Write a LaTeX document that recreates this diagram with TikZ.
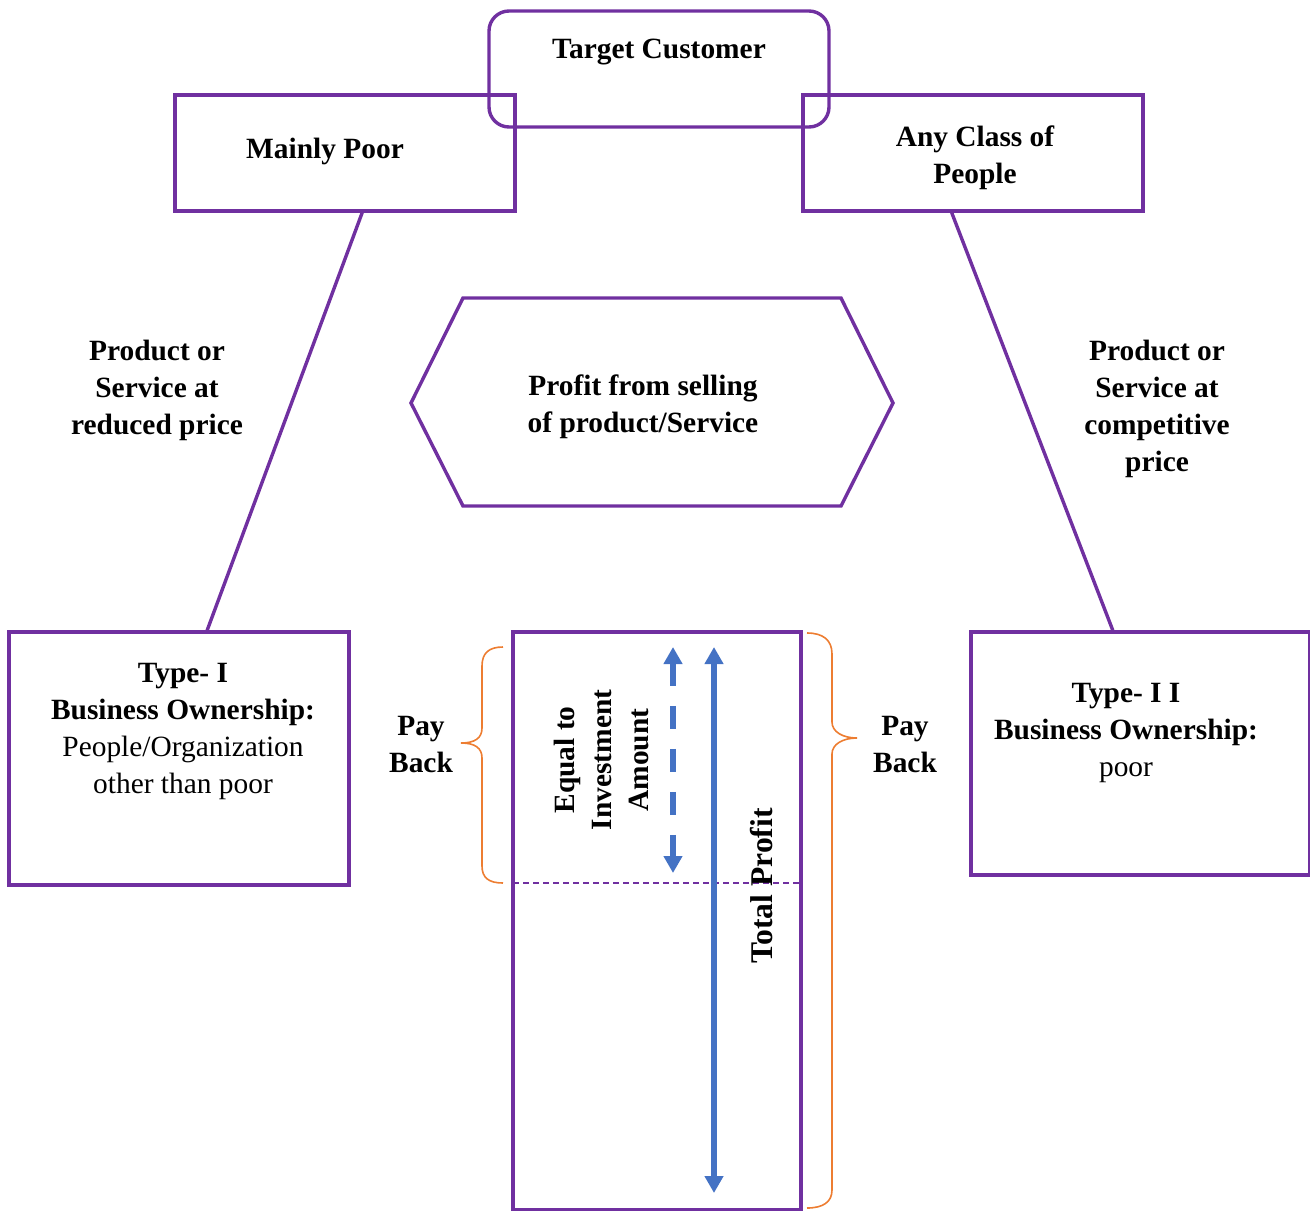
\documentclass[tikz,border=0pt]{standalone}
\usepackage{fontspec}
\setmainfont{Liberation Serif}
\usetikzlibrary{arrows.meta,calc}
\definecolor{pur}{HTML}{7030A0}
\definecolor{blu}{HTML}{4472C4}
\definecolor{org}{HTML}{ED7D31}
\begin{document}
\begin{tikzpicture}[x=0.5pt,y=-0.5pt,
  box/.style={draw=pur, line width=1.7pt, minimum width=170pt, minimum height=58pt, inner sep=0pt},
  txt/.style={font=\fontsize{14.7}{18.5}\selectfont\bfseries, align=center, inner sep=0pt},
  conn/.style={draw=pur, line width=1.7pt},
  bracestyle/.style={draw=org, line width=0.8pt},
  arr/.style={draw=blu, line width=2.6pt, {Triangle[width=9pt,length=8.5pt]}-{Triangle[width=9pt,length=8.5pt]}}]
\useasboundingbox (0,0) rectangle (1310,1210);
% top boxes
\node[box] (poor) at (345,153) {};
\node[txt] (poort) at (325,151) {Mainly Poor};
\node[box] (any) at (973,153) {};
\node[txt] (anyt) at (975,158) {Any Class of\\People};
\node[box, rounded corners=10pt] (target) at (659,69) {};
\node[txt] (targett) at (659,52) {Target Customer};
% bottom boxes
\node[box, minimum height=126.5pt] (t1) at (179,758.5) {};
\node[txt] (t1t) at (183,731) {Type- I\\Business Ownership:\\{\mdseries People/Organization}\\{\mdseries other than poor}};
\node[box, minimum width=169.5pt, minimum height=121.5pt] (t2) at (1140.5,753.5) {};
\node[txt] (t2t) at (1126,733) {Type- I I\\Business Ownership:\\{\mdseries poor}};
% connectors
\draw[conn] ($(poor.south west)!0.55!(poor.south east)$) -- ($(t1.north west)!0.582!(t1.north east)$);
\draw[conn] ($(any.south west)!0.438!(any.south east)$) -- ($(t2.north west)!0.419!(t2.north east)$);
% side labels
\node[txt] (lpl) at (157,390) {Product or\\Service at\\reduced price};
\node[txt] (rpl) at (1157,408.5) {Product or\\Service at\\competitive\\price};
% hexagon
\draw[conn] (463,298) -- (841,298) -- (893,403) -- (841,506) -- (463,506) -- (411,403) -- cycle;
\node[txt] (profit) at (643,407) {Profit from selling\\of product/Service};
% centre column
\node[draw=pur, line width=1.7pt, minimum width=144pt, minimum height=289pt, inner sep=0pt] (col) at (657,921) {};
\coordinate (pbk) at (513,883);
\draw[pur, line width=0.6pt, dash pattern=on 3pt off 2pt] (pbk) -- (pbk -| col.east);
% arrows
\coordinate (d1) at (673,647);
\coordinate (d2) at (673,873);
\draw[arr, dash pattern=on 11.5pt off 10pt] (d1) -- (d2);
\coordinate (s1) at (714,647);
\coordinate (s2) at (714,1193);
\draw[arr] (s1) -- (s2);
\node[txt, rotate=90] (eq) at (601,760) {Equal to\\Investment\\Amount};
\node[txt, rotate=90, font=\fontsize{15.8}{18.5}\selectfont\bfseries] (tp) at (762,886) {Total Profit};
% braces
\draw[bracestyle] (503,647) .. controls (489,647) and (482,653) .. (482,666) -- (482,728) .. controls (482,738) and (475,743) .. (461,743) .. controls (475,743) and (482,748) .. (482,758) -- (482,866) .. controls (482,878) and (489,883) .. (503,883);
\draw[bracestyle] (807,633) .. controls (823,633) and (832,640) .. (832,654) -- (832,722) .. controls (832,732) and (843,738) .. (857,738) .. controls (843,738) and (832,744) .. (832,754) -- (832,1190) .. controls (832,1202) and (823,1208) .. (807,1208);
\node[txt] (pbl) at (421,745) {Pay\\Back};
\node[txt] (pbr) at (905,745) {Pay\\Back};
\end{tikzpicture}
\end{document}
